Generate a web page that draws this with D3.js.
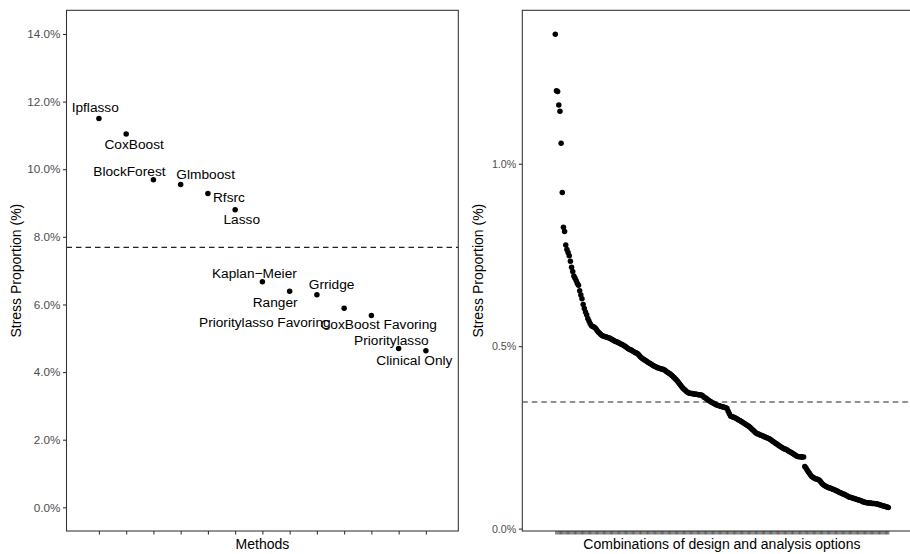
<!DOCTYPE html>
<html><head><meta charset="utf-8">
<script src="https://cdn.jsdelivr.net/npm/d3@7"></script>
<style>
body{margin:0;background:#fff;}
text{font-family:"Liberation Sans",Arial,Helvetica,sans-serif;}
</style></head>
<body><svg id="c" width="910" height="554"></svg>
<script>
// ---------- data ----------
const methods = ["Ipflasso","CoxBoost","BlockForest","Glmboost","Rfsrc","Lasso","Kaplan\u2212Meier","Ranger","Grridge","Prioritylasso Favoring","CoxBoost Favoring","Prioritylasso","Clinical Only"];
const methodStress = [11.50,11.04,9.69,9.55,9.28,8.80,6.67,6.39,6.29,5.89,5.67,4.70,4.63];
const methodMean = 7.69;
const leftYTicks = [0,2,4,6,8,10,12,14];
// label nudges (layout, px)
const labelDx = [-3.7,8,-24,25,21,6.6,-8,-14.5,14.7,-79.3,7.3,-7.3,-11.5];
const labelDy = [-11,10.3,-8.6,-10,3.7,9.7,-9,10.6,-10,13.6,8.3,-8.7,9.7];

const comboStress = [
1.355,1.200,1.198,1.161,1.144,1.056,0.921,0.826,0.814,0.777,
0.765,0.757,0.748,0.733,0.716,0.705,0.692,0.686,0.679,0.672,
0.667,0.652,0.640,0.630,0.614,0.603,0.594,0.586,0.576,0.569,
0.562,0.557,0.554,0.553,0.551,0.548,0.543,0.539,0.536,0.533,
0.530,0.528,0.527,0.526,0.525,0.524,0.523,0.522,0.520,0.518,
0.516,0.514,0.513,0.512,0.510,0.509,0.507,0.505,0.504,0.502,
0.500,0.498,0.495,0.493,0.491,0.490,0.488,0.486,0.484,0.482,
0.481,0.479,0.476,0.472,0.469,0.466,0.464,0.462,0.460,0.458,
0.455,0.454,0.452,0.450,0.448,0.446,0.444,0.443,0.441,0.440,
0.439,0.438,0.437,0.437,0.435,0.433,0.430,0.428,0.426,0.424,
0.421,0.418,0.415,0.412,0.409,0.405,0.401,0.397,0.393,0.389,
0.385,0.382,0.379,0.376,0.374,0.372,0.371,0.370,0.370,0.369,
0.369,0.368,0.368,0.367,0.367,0.366,0.366,0.364,0.361,0.359,
0.357,0.354,0.352,0.350,0.348,0.346,0.344,0.342,0.341,0.339,
0.338,0.337,0.336,0.335,0.334,0.333,0.332,0.331,0.329,0.322,
0.315,0.309,0.307,0.306,0.305,0.303,0.302,0.300,0.298,0.296,
0.294,0.292,0.290,0.288,0.286,0.284,0.282,0.280,0.277,0.274,
0.271,0.268,0.265,0.262,0.260,0.259,0.258,0.256,0.255,0.254,
0.252,0.251,0.250,0.248,0.247,0.245,0.243,0.240,0.238,0.236,
0.233,0.232,0.229,0.227,0.225,0.223,0.221,0.219,0.218,0.217,
0.215,0.213,0.211,0.209,0.207,0.205,0.203,0.201,0.199,0.198,
0.197,0.197,0.196,0.196,0.196,0.170,0.166,0.161,0.156,0.152,
0.147,0.143,0.141,0.139,0.137,0.136,0.135,0.134,0.131,0.127,
0.123,0.120,0.118,0.116,0.115,0.113,0.112,0.111,0.110,0.108,
0.107,0.106,0.104,0.103,0.101,0.099,0.098,0.096,0.095,0.094,
0.092,0.091,0.089,0.087,0.086,0.085,0.084,0.083,0.082,0.081,
0.080,0.079,0.078,0.077,0.076,0.074,0.073,0.072,0.071,0.071,
0.070,0.070,0.070,0.069,0.069,0.069,0.068,0.068,0.067,0.066,
0.065,0.064,0.063,0.062,0.061,0.060,0.059,0.058];
const comboMean = 0.347;
const rightYTicks = [0,0.5,1.0];

// ---------- drawing ----------
const svg = d3.select("#c");
const frameCol = "#333333", tickLabCol = "#4d4d4d";

function panel(cfg){
  const g = svg.append("g");
  const {x0,x1,y0,y1} = cfg;
  // y axis
  const ya = d3.axisLeft(cfg.y).tickValues(cfg.yTicks).tickSize(3.5).tickPadding(2.5).tickFormat(cfg.fmt);
  const yg = g.append("g").attr("transform",`translate(${x0},0)`).call(ya);
  yg.select(".domain").remove();
  yg.selectAll("line").attr("stroke",frameCol).attr("stroke-width",1.07);
  yg.selectAll("text").attr("fill",tickLabCol).style("font-size",cfg.tickFont+"px").style("font-family","Liberation Sans, Arial, sans-serif");
  // x axis
  const xa = d3.axisBottom(cfg.x).tickValues(cfg.xTicks).tickSize(3.5).tickFormat("");
  const xg = g.append("g").attr("transform",`translate(0,${y1})`).call(xa);
  xg.select(".domain").remove();
  xg.selectAll("line").attr("stroke",frameCol).attr("stroke-width",cfg.xTickW);
  // mean line
  g.append("line").attr("x1",x0).attr("x2",x1).attr("y1",cfg.y(cfg.mean)).attr("y2",cfg.y(cfg.mean))
    .attr("stroke","#222222").attr("stroke-width",1.2).attr("stroke-dasharray","5.5,4");
  // points
  g.selectAll("circle.pt").data(cfg.vals).join("circle").attr("class","pt")
    .attr("cx",(d,i)=>cfg.x(cfg.xOf(i))).attr("cy",d=>cfg.y(d)).attr("r",2.75).attr("fill","#000");
  // frame
  g.append("rect").attr("x",x0).attr("y",y0).attr("width",x1-x0).attr("height",y1-y0)
    .attr("fill","none").attr("stroke",frameCol).attr("stroke-width",1.07);
  // titles
  g.append("text").attr("x",(x0+x1)/2).attr("y",cfg.xTitleY).attr("text-anchor","middle")
    .style("font-size","14px").attr("fill","#000").text(cfg.xTitle);
  g.append("text").attr("transform",`translate(${cfg.yTitleX},${(y0+y1)/2}) rotate(-90)`)
    .attr("text-anchor","middle").attr("dy","0.35em").style("font-size","14px").attr("fill","#000").text("Stress Proportion (%)");
  return g;
}

// left panel
const L = {x0:66.5,x1:458.3,y0:10.3,y1:531};
const xL = d3.scaleLinear().domain([-0.19,14.19]).range([L.x0,L.x1]);
const yL = d3.scaleLinear().domain([-0.7,14.7]).range([L.y1,L.y0]);
const gL = panel({...L,x:xL,y:yL,yTicks:leftYTicks,fmt:d=>d3.format(".1f")(d)+"%",tickFont:11.7,
  xTicks:d3.range(1,methods.length+1),xTickW:1.07,mean:methodMean,vals:methodStress,xOf:i=>i+1,
  xTitle:"Methods",xTitleY:549,yTitleX:16});
gL.selectAll("text.lab").data(methods).join("text").attr("class","lab")
  .attr("x",(d,i)=>xL(i+1)+labelDx[i]).attr("y",(d,i)=>yL(methodStress[i])+labelDy[i])
  .attr("dy","0.35em").attr("text-anchor","middle").style("font-size","13.7px").attr("fill","#000").text(d=>d);

// right panel
const R = {x0:522.3,x1:921.5,y0:10.3,y1:531};
const xR = d3.scaleLinear().domain([-28.45,315.6]).range([R.x0,R.x1]);
const yR = d3.scaleLinear().domain([-0.0065,1.4205]).range([R.y1,R.y0]);
panel({...R,x:xR,y:yR,yTicks:rightYTicks,fmt:d=>d3.format(".1f")(d)+"%",tickFont:10.7,
  xTicks:d3.range(comboStress.length),xTickW:0.8,mean:comboMean,vals:comboStress,xOf:i=>i,
  xTitle:"Combinations of design and analysis options",xTitleY:549,yTitleX:478.5});
</script></body></html>
